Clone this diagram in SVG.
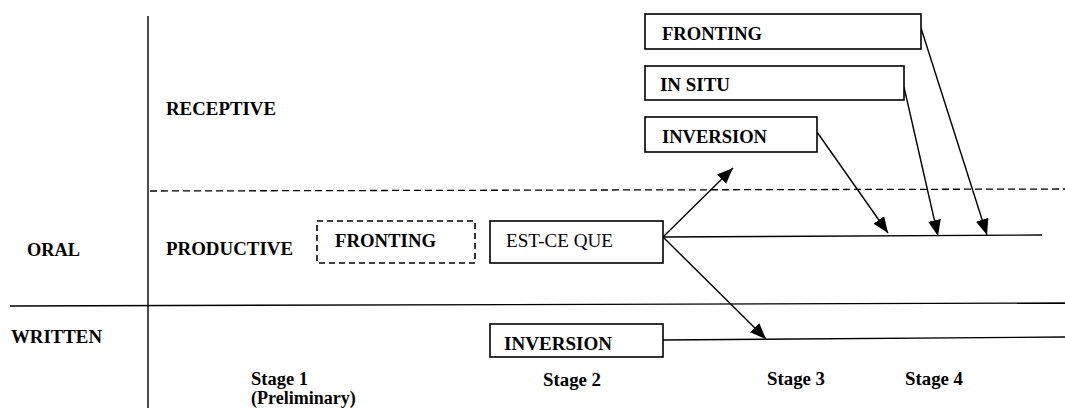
<svg xmlns="http://www.w3.org/2000/svg" width="1065" height="408" viewBox="0 0 1065 408">
<style>
.lbl{font-family:"Liberation Serif","Times New Roman",serif;font-weight:bold;font-size:18px;fill:#000}
.reg{font-family:"Liberation Serif","Times New Roman",serif;font-weight:normal;font-size:18px;fill:#000}
.box{fill:#fff;stroke:#000;stroke-width:1.6}
.dbox{fill:none;stroke:#000;stroke-width:1.6;stroke-dasharray:6,4}
.ln{stroke:#000;stroke-width:1.4;fill:none}
.dash{stroke:#000;stroke-width:1.3;stroke-dasharray:7,4;fill:none}
.arr{stroke:#000;stroke-width:1.4;fill:none;marker-end:url(#ah)}
</style>
<defs>
<marker id="ah" markerUnits="userSpaceOnUse" markerWidth="16" markerHeight="13" refX="16" refY="6.5" orient="auto">
<path d="M0,0 L16,6.5 L0,13 z" fill="#000"/>
</marker>
</defs>
<rect width="1065" height="408" fill="#fff"/>
<g id="grid">
<line class="ln" x1="148" y1="16" x2="148" y2="408"/>
<line class="ln" x1="10" y1="306" x2="1065" y2="303"/>
<line class="dash" x1="150" y1="191" x2="1065" y2="189"/>
</g>
<g id="labels">
<text class="lbl" x="166" y="115" textLength="110" lengthAdjust="spacingAndGlyphs">RECEPTIVE</text>
<text class="lbl" x="166" y="255" textLength="127" lengthAdjust="spacingAndGlyphs">PRODUCTIVE</text>
<text class="lbl" x="27" y="256" textLength="53" lengthAdjust="spacingAndGlyphs">ORAL</text>
<text class="lbl" x="11" y="343" textLength="91" lengthAdjust="spacingAndGlyphs">WRITTEN</text>
<text class="lbl" x="251" y="385" textLength="57" lengthAdjust="spacingAndGlyphs">Stage 1</text>
<text class="lbl" x="251" y="404">(Preliminary)</text>
<text class="lbl" x="543" y="386" textLength="58" lengthAdjust="spacingAndGlyphs">Stage 2</text>
<text class="lbl" x="767" y="385" textLength="58" lengthAdjust="spacingAndGlyphs">Stage 3</text>
<text class="lbl" x="905" y="385" textLength="58" lengthAdjust="spacingAndGlyphs">Stage 4</text>
</g>
<g id="connectors">
<line class="ln" x1="663" y1="237" x2="1042" y2="235"/>
<line class="ln" x1="663" y1="340" x2="1065" y2="337"/>
<line class="arr" x1="663" y1="237" x2="733" y2="168"/>
<line class="arr" x1="663" y1="237" x2="766" y2="339"/>
<line class="arr" x1="817" y1="132" x2="888" y2="233"/>
<line class="arr" x1="904" y1="87" x2="938" y2="236"/>
<line class="arr" x1="921" y1="28" x2="987" y2="235"/>
</g>
<g id="node-fronting-stage1">
<rect class="dbox" x="317" y="221" width="158" height="42"/>
<text class="lbl" x="335" y="247" textLength="101" lengthAdjust="spacingAndGlyphs">FRONTING</text>
</g>
<g id="node-est-ce-que">
<rect class="box" x="490" y="221" width="173" height="42"/>
<text class="reg" x="506" y="247" textLength="107" lengthAdjust="spacingAndGlyphs">EST-CE QUE</text>
</g>
<g id="node-inversion-written">
<rect class="box" x="490" y="324" width="173" height="33"/>
<text class="lbl" x="504" y="350" textLength="108" lengthAdjust="spacingAndGlyphs">INVERSION</text>
</g>
<g id="node-fronting-receptive">
<rect class="box" x="645" y="14" width="276" height="35"/>
<text class="lbl" x="662" y="40" textLength="100" lengthAdjust="spacingAndGlyphs">FRONTING</text>
</g>
<g id="node-in-situ">
<rect class="box" x="645" y="66" width="259" height="34"/>
<text class="lbl" x="660" y="91" textLength="70" lengthAdjust="spacingAndGlyphs">IN SITU</text>
</g>
<g id="node-inversion-receptive">
<rect class="box" x="645" y="117" width="172" height="35"/>
<text class="lbl" x="662" y="143" textLength="105" lengthAdjust="spacingAndGlyphs">INVERSION</text>
</g>
</svg>
